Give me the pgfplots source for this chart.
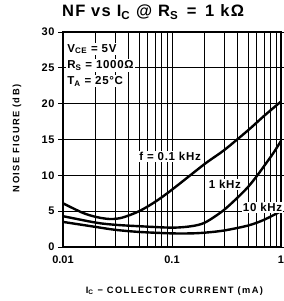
\documentclass[border=0pt]{standalone}
\usepackage{fontspec}
\setmainfont{Liberation Sans}
\newfontfamily\wide[LetterSpace=15]{Liberation Sans}
\newfontfamily\semi[LetterSpace=6]{Liberation Sans}
\newfontfamily\ttl[LetterSpace=8]{Liberation Sans}
\usepackage{pgfplots}
\pgfplotsset{compat=1.18}
\begin{document}
\begin{tikzpicture}
\begin{axis}[
  scale only axis, width=218pt, height=215pt,
  xmode=log, xmin=0.01, xmax=1, ymin=0, ymax=30,
  ytick={0,5,...,30},
  xtick={0.01,0.1,1}, xticklabels={0.01,0.1,1},
  grid=both,
  major grid style={black, line width=0.9pt},
  minor grid style={black, line width=0.9pt},
  axis line style={line width=1.3pt},
  xtick style={draw=none},
  ytick style={black, line width=0.9pt},
  tick align=outside, major tick length=5pt,
  yticklabel style={font=\semi\bfseries\fontsize{11}{13}\selectfont},
  xticklabel style={font=\bfseries\fontsize{11}{13}\selectfont},
  /pgf/number format/assume math mode=true,
  clip mode=individual,
  name=ax,
]
\addplot[black, line width=2.4pt, smooth] coordinates {
(0.01,6.1) (0.015,4.8) (0.02,4.2) (0.027,3.9) (0.035,4.1) (0.05,5.0) (0.07,6.3) (0.1,8.0) (0.2,11.6) (0.3,13.5) (0.5,16.3) (0.7,18.3) (1,20.3)};
\addplot[black, line width=2.4pt, smooth] coordinates {
(0.01,4.3) (0.02,3.4) (0.03,3.1) (0.05,2.9) (0.1,2.7) (0.15,2.9) (0.2,3.4) (0.29,5.0) (0.4,6.9) (0.5,8.4) (0.6,9.9) (0.7,11.3) (0.85,13.1) (1,14.8)};
\addplot[black, line width=2.4pt, smooth] coordinates {
(0.01,3.5) (0.02,2.8) (0.03,2.4) (0.05,2.1) (0.1,1.9) (0.15,1.9) (0.2,2.0) (0.3,2.3) (0.5,3.0) (0.7,3.8) (1,5.0)};
\begin{scope}[every node/.style={font=\semi\bfseries\fontsize{11.5}{13}\selectfont, fill=white, inner sep=1.2pt, anchor=base}]
\node at (axis cs:0.096,12.0) {f = 0.1 kHz};
\node at (axis cs:0.306,8.1) {1 kHz};
\node at (axis cs:0.677,4.95) {10 kHz};
\node[anchor=base west] at (axis cs:0.01065,27.2) {V\textsubscript{CE} = 5V};
\node[anchor=base west] at (axis cs:0.01065,24.9) {R\textsubscript{S} = 1000Ω};
\node[anchor=base west] at (axis cs:0.01065,22.7) {T\textsubscript{A} = 25\textdegree C};
\end{scope}
\node[font=\ttl\bfseries\fontsize{16.5}{19}\selectfont, anchor=base] at (axis description cs:0.413,1.07) {NF vs I\textsubscript{C} @ R\textsubscript{S}\, = \,1 kΩ};
\node[font=\wide\bfseries\fontsize{9.3}{11}\selectfont, anchor=base] at (axis description cs:0.511,-0.215) {I\textsubscript{C} − COLLECTOR CURRENT (mA)};
\node[font=\wide\bfseries\fontsize{9.3}{11}\selectfont, rotate=90, anchor=base] at (axis description cs:-0.2,0.505) {NOISE FIGURE (dB)};
\coordinate (bl) at (rel axis cs:0,0);
\coordinate (tr) at (rel axis cs:1,1);
\end{axis}
\pgfresetboundingbox
\path ([xshift=-63pt,yshift=-54pt]bl) rectangle ([xshift=2pt,yshift=32pt]tr);
\end{tikzpicture}
\end{document}
